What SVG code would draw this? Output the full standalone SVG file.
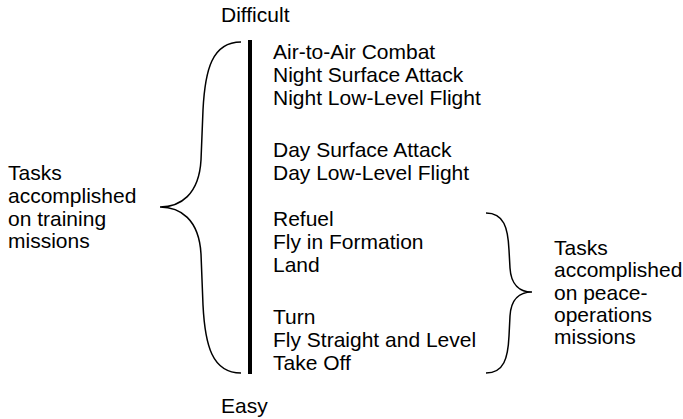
<svg xmlns="http://www.w3.org/2000/svg" width="683" height="419" viewBox="0 0 683 419">
<style>
text{font-family:"Liberation Sans",Arial,sans-serif;font-size:21px;fill:#000}
.brace{fill:none;stroke:#000;stroke-width:1.5}
</style>
<rect width="683" height="419" fill="#fff"/>
<g id="scale">
<line x1="250" y1="40" x2="250" y2="374" stroke="#000" stroke-width="4"/>
<text x="221" y="22">Difficult</text>
<text x="221" y="413">Easy</text>
</g>
<g id="connectors">
<path class="brace" d="M241,42 C212,42 205,70 203,110 L201,160 C199,195 180,207 160,207 C180,207 199,219 201,254 L203,305 C205,345 212,373 241,373"/>
<path class="brace" d="M486,213 C504,213 508,228 509,250 L510,268 C511,285 520,292 532,292 C520,292 511,299 510,316 L509,336 C508,358 504,373 486,373"/>
</g>
<g id="tasks">
<text x="273" y="59">Air-to-Air Combat</text>
<text x="273" y="82">Night Surface Attack</text>
<text x="273" y="105">Night Low-Level Flight</text>
<text x="273" y="157">Day Surface Attack</text>
<text x="273" y="180">Day Low-Level Flight</text>
<text x="273" y="226">Refuel</text>
<text x="273" y="249">Fly in Formation</text>
<text x="273" y="272">Land</text>
<text x="273" y="324">Turn</text>
<text x="273" y="347">Fly Straight and Level</text>
<text x="273" y="370">Take Off</text>
</g>
<g id="training">
<text x="8" y="180">Tasks</text>
<text x="8" y="203">accomplished</text>
<text x="8" y="226">on training</text>
<text x="8" y="248">missions</text>
</g>
<g id="peace">
<text x="554" y="255">Tasks</text>
<text x="554" y="277">accomplished</text>
<text x="554" y="300">on peace-</text>
<text x="554" y="322">operations</text>
<text x="554" y="344">missions</text>
</g>
</svg>
